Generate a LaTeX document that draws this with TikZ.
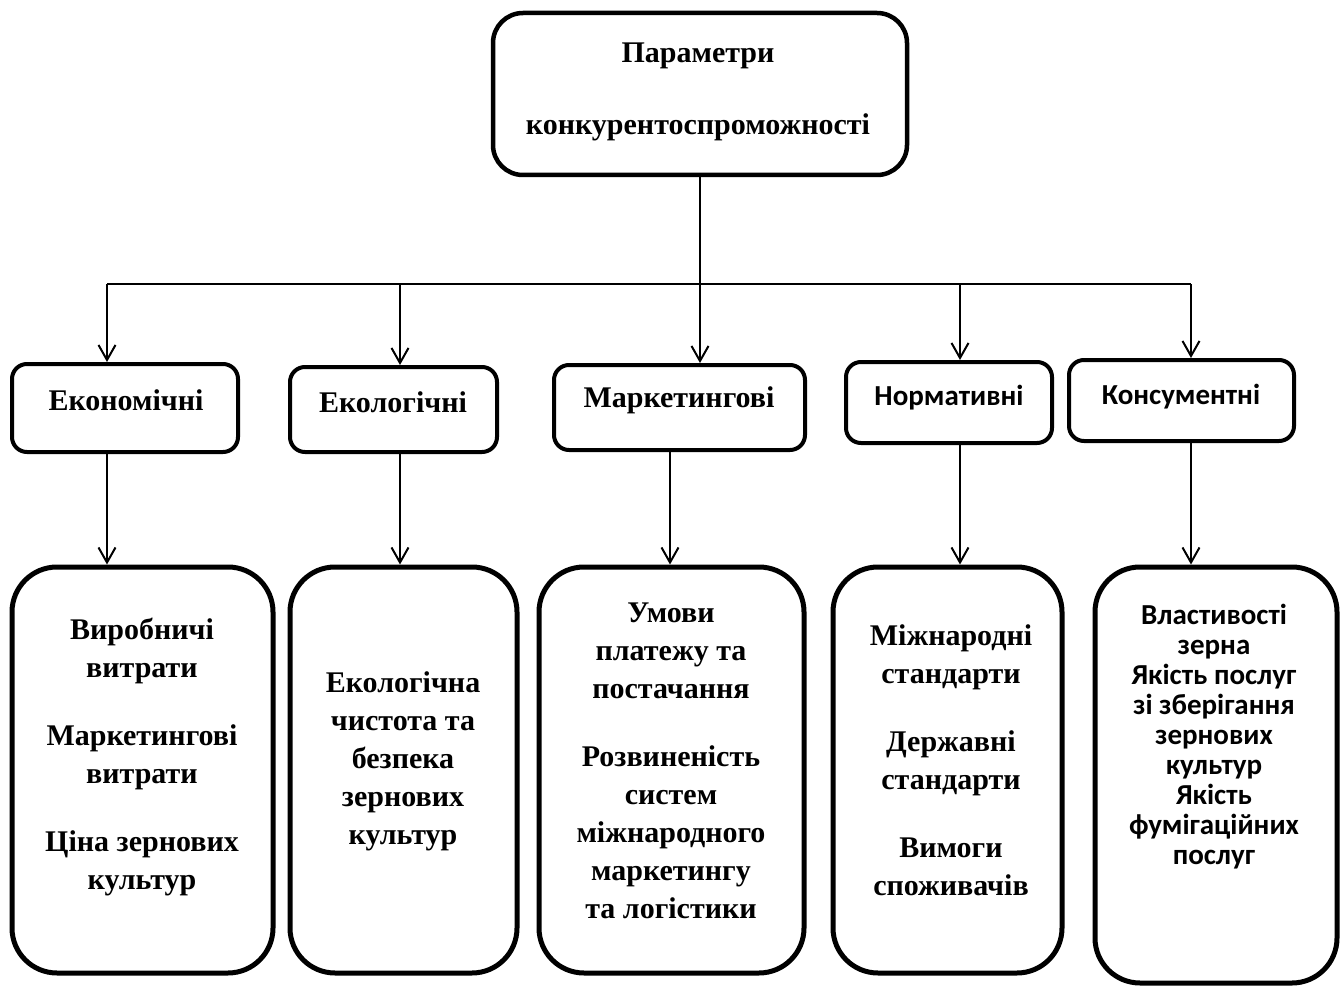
\documentclass[tikz,border=0pt]{standalone}
\usepackage{fontspec}
\setmainfont{Liberation Serif}
\newfontfamily\calibri{Carlito}
\usetikzlibrary{arrows.meta}

\begin{document}
\begin{tikzpicture}[x=1pt, y=-1pt,
	box/.style={draw=black, line width=4pt, rounded corners=15pt, inner sep=0pt},
	bigbox/.style={draw=black, line width=5pt, rounded corners=45pt, inner sep=0pt},
	txt/.style={align=center, inner sep=0pt, font=\fontsize{30}{38}\selectfont\bfseries},
	ctxt/.style={align=center, inner sep=0pt, font=\calibri\fontsize{29}{30}\selectfont\bfseries},
	line/.style={draw=black, line width=2pt},
	arr/.style={line, -{Straight Barb[length=15pt,width=17pt]}}]
	\useasboundingbox (0,0) rectangle (1344,987);
	% top
	\node[box, line width=4.5pt, rounded corners=30pt, minimum width=414pt, minimum height=162pt] (param) at (700,94) {};
	\node[txt] (paramT) at (698,92) {Параметри\\[34pt]конкурентоспроможності};
	% groups
	\node[box, minimum width=226pt, minimum height=88pt] (eco)  at (125,408)     {};
	\node[box, minimum width=207pt, minimum height=85pt] (ekol) at (393.5,409.5) {};
	\node[box, minimum width=251pt, minimum height=85pt] (mark) at (679.5,407.5) {};
	\node[box, minimum width=206pt, minimum height=81pt] (norm) at (949,402.5)   {};
	\node[box, minimum width=225pt, minimum height=81pt] (kons) at (1181.5,400.5) {};
	\node[txt]  (ecoT)  at (126,400)  {Економічні};
	\node[txt]  (ekolT) at (393,402)  {Екологічні};
	\node[txt]  (markT) at (679,400)  {Маркетингові};
	\node[ctxt] (normT) at (949,398)  {Нормативні};
	\node[ctxt] (konsT) at (1181,397) {Консументні};
	% parameters
	\node[bigbox, minimum width=261pt, minimum height=406pt] (vytr)  at (142.5,770) {};
	\node[bigbox, minimum width=227pt, minimum height=406pt] (chyst) at (403.5,770) {};
	\node[bigbox, minimum width=265pt, minimum height=406pt] (umov)  at (671.5,770) {};
	\node[bigbox, minimum width=229pt, minimum height=406pt] (stand) at (947.5,770) {};
	\node[bigbox, minimum width=242pt, minimum height=416pt] (vlast) at (1216,775)  {};
	\node[txt] (vytrT)  at (142,757) {Виробничі\\витрати\\[30pt]Маркетингові\\витрати\\[30pt]Ціна зернових\\культур};
	\node[txt] (chystT) at (403,761) {Екологічна\\чистота та\\безпека\\зернових\\культур};
	\node[txt] (umovT)  at (671,761) {Умови\\платежу та\\постачання\\[30pt]Розвиненість\\систем\\міжнародного\\маркетингу\\та логістики};
	\node[txt] (standT) at (951,760) {Міжнародні\\стандарти\\[30pt]Державні\\стандарти\\[30pt]Вимоги\\споживачів};
	\node[ctxt] (vlastT) at (1214,737) {Властивості\\зерна\\Якість послуг\\зі зберігання\\зернових\\культур\\Якість\\фумігаційних\\послуг};
	% connectors
	\coordinate (b1) at (107,284);
	\coordinate (b2) at (400,284);
	\coordinate (b3) at (700,284);
	\coordinate (b4) at (960,284);
	\coordinate (b5) at (1191,284);
	\coordinate (d3) at (670,500);
	\draw[line] (param.south) -- (b3);
	\draw[line] (b1) -- (b5);
	\draw[arr] (b1) -- (b1 |- eco.north);
	\draw[arr] (b2) -- (b2 |- ekol.north);
	\draw[arr] (b3) -- (b3 |- mark.north);
	\draw[arr] (b4) -- (b4 |- norm.north);
	\draw[arr] (b5) -- (b5 |- kons.north);
	\draw[arr] (b1 |- eco.south)  -- (b1 |- vytr.north);
	\draw[arr] (b2 |- ekol.south) -- (b2 |- chyst.north);
	\draw[arr] (d3 |- mark.south) -- (d3 |- umov.north);
	\draw[arr] (b4 |- norm.south) -- (b4 |- stand.north);
	\draw[arr] (b5 |- kons.south) -- (b5 |- vlast.north);
\end{tikzpicture}
\end{document}
